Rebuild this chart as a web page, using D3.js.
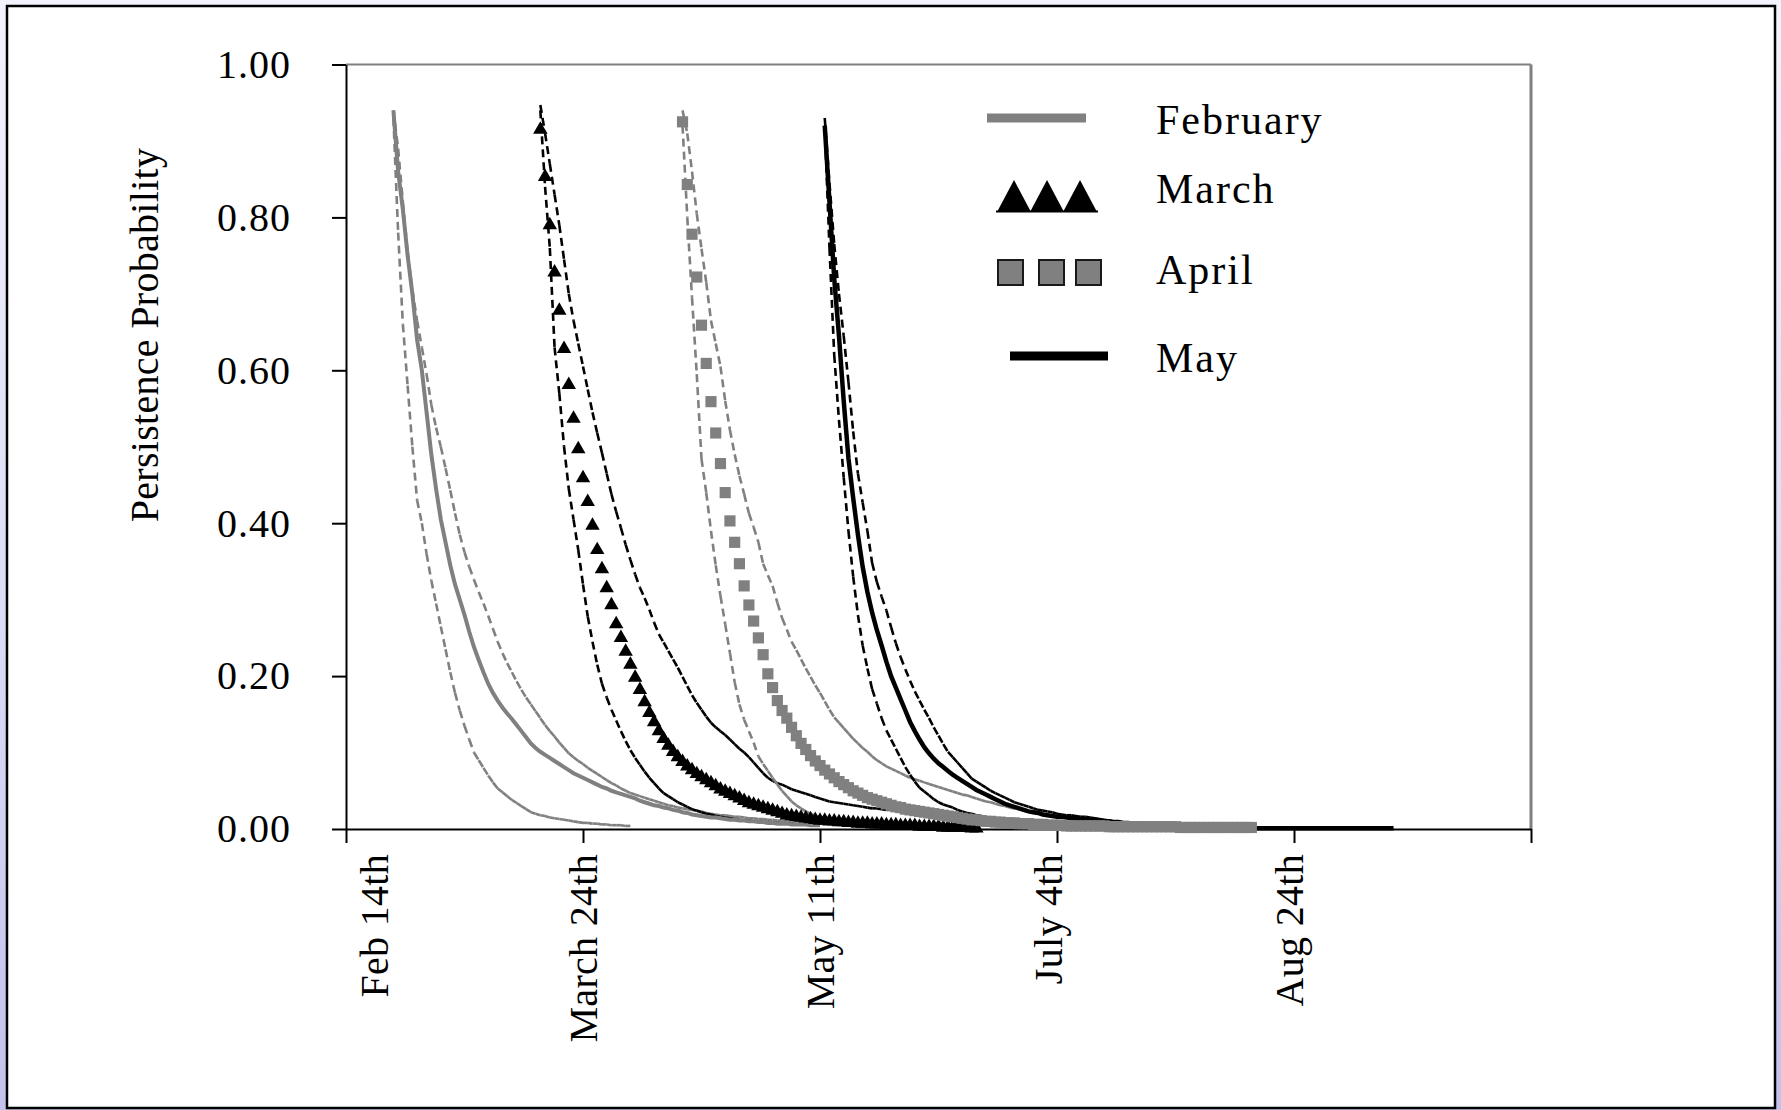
<!DOCTYPE html>
<html>
<head>
<meta charset="utf-8">
<script src="https://cdn.jsdelivr.net/npm/d3@7"></script>
<style>
html, body { margin:0; padding:0; width:1781px; height:1110px; overflow:hidden;
  background: linear-gradient(to bottom, #f3f3fe 0%, #dcdcf6 55%, #c2c2ec 100%); }
svg { display:block; }
text { font-family: "Liberation Serif", "Times New Roman", serif; fill:#000; }
</style>
</head>
<body>
<svg id="chart" width="1781" height="1110"></svg>
<script>
// ---------------- DATA ----------------
const yTicks = [0, 0.2, 0.4, 0.6, 0.8, 1.0];
const xTickDays = [0, 50, 100, 150, 200, 250];
const xTickLabels = ["Feb 14th", "March 24th", "May 11th", "July 4th", "Aug 24th"];
const xTickLabelDays = [6, 50, 100, 148, 199];
const months = ["February", "March", "April", "May"];

// first day (index on the x axis) of each daily series
const febStart = 10, marStart = 41, aprStart = 71, mayStart = 101;

// February: lower bound, mean, upper bound (daily)
const febLow = [0.93,0.78,0.66,0.58,0.50,0.43,0.40,0.36,0.325,0.295,0.265,0.235,0.205,0.178,0.155,0.135,0.117,0.100,0.090,0.080,0.070,0.061,0.053,0.048,0.043,0.038,0.034,0.030,0.026,0.022,0.020,0.018,0.017,0.015,0.014,0.013,0.012,0.011,0.010,0.009,0.008,0.008,0.007,0.007,0.006,0.006,0.005,0.005,0.005,0.004,0.004];
const febMean = [0.94,0.86,0.81,0.75,0.70,0.64,0.60,0.545,0.49,0.445,0.405,0.375,0.345,0.32,0.30,0.28,0.258,0.238,0.221,0.205,0.19,0.178,0.168,0.159,0.151,0.144,0.136,0.128,0.12,0.112,0.106,0.101,0.097,0.093,0.089,0.085,0.081,0.077,0.073,0.07,0.067,0.064,0.061,0.058,0.055,0.053,0.05,0.048,0.046,0.044,0.042,0.04,0.037,0.035,0.033,0.031,0.03,0.028,0.027,0.025,0.024,0.022,0.021,0.019,0.018,0.017,0.016,0.015,0.015,0.014,0.013,0.012,0.012,0.011,0.011,0.01,0.01,0.009,0.009,0.008,0.008,0.007,0.007,0.007,0.006,0.006,0.006,0.006,0.005,0.005,0.005];
const febHigh = [0.94,0.89,0.82,0.755,0.705,0.665,0.63,0.595,0.555,0.525,0.5,0.472,0.443,0.413,0.385,0.362,0.343,0.326,0.31,0.295,0.279,0.262,0.245,0.23,0.217,0.205,0.193,0.182,0.172,0.163,0.154,0.145,0.136,0.128,0.121,0.113,0.106,0.099,0.094,0.089,0.085,0.08,0.076,0.072,0.068,0.064,0.06,0.057,0.053,0.05,0.047,0.045,0.043,0.041,0.039,0.037,0.035,0.033,0.031,0.03,0.028,0.027,0.026,0.025,0.024,0.023,0.021,0.02,0.019,0.018,0.018,0.017,0.016,0.016,0.015,0.014,0.014,0.013,0.013,0.012,0.012,0.011,0.011,0.01,0.01,0.01,0.009,0.009,0.008,0.008,0.008,0.007,0.007,0.006,0.006,0.006];

// March
const marLow = [0.94,0.84,0.76,0.63,0.57,0.50,0.445,0.405,0.365,0.32,0.278,0.245,0.215,0.19,0.172,0.156,0.142,0.128,0.115,0.103,0.093,0.084,0.075,0.067,0.06,0.053,0.047,0.043,0.039,0.035,0.032,0.029,0.026,0.024,0.022,0.02,0.019,0.017,0.016,0.015,0.014,0.013,0.012,0.011,0.011,0.01,0.01,0.009,0.009,0.008,0.008,0.007,0.007,0.007,0.006,0.006];
const marMean = [0.915,0.853,0.79,0.728,0.678,0.628,0.581,0.537,0.497,0.459,0.428,0.397,0.365,0.34,0.315,0.293,0.268,0.25,0.232,0.215,0.198,0.182,0.166,0.152,0.14,0.128,0.118,0.109,0.101,0.094,0.088,0.082,0.077,0.072,0.068,0.064,0.06,0.056,0.052,0.049,0.046,0.043,0.04,0.037,0.034,0.032,0.03,0.028,0.026,0.024,0.022,0.02,0.018,0.017,0.016,0.015,0.014,0.013,0.012,0.011,0.011,0.01,0.01,0.009,0.009,0.008,0.008,0.007,0.007,0.007,0.006,0.006,0.006,0.005,0.005,0.005,0.004,0.004,0.004,0.004,0.003,0.003,0.003,0.003,0.003,0.002,0.002,0.002,0.002,0.002,0.002,0.001,0.001];
const marHigh = [0.947,0.91,0.87,0.83,0.79,0.745,0.70,0.665,0.635,0.605,0.575,0.545,0.518,0.492,0.465,0.438,0.415,0.394,0.372,0.352,0.333,0.316,0.302,0.287,0.27,0.255,0.244,0.233,0.222,0.211,0.199,0.187,0.175,0.165,0.156,0.147,0.139,0.133,0.128,0.123,0.117,0.111,0.105,0.1,0.094,0.087,0.08,0.073,0.067,0.063,0.06,0.058,0.055,0.052,0.05,0.048,0.046,0.044,0.042,0.04,0.038,0.036,0.035,0.034,0.033,0.032,0.031,0.03,0.029,0.028,0.027,0.027,0.026,0.025,0.025,0.024,0.023,0.023,0.022,0.022,0.021,0.02,0.019,0.018,0.017,0.016,0.015,0.014,0.013,0.012,0.011,0.01,0.009,0.008,0.008,0.007,0.006,0.006,0.005,0.005];

// April
const aprLow = [0.92,0.80,0.695,0.595,0.484,0.44,0.39,0.345,0.305,0.268,0.23,0.192,0.163,0.143,0.128,0.113,0.095,0.085,0.076,0.067,0.058,0.05,0.043,0.036,0.031,0.027,0.023,0.02,0.017,0.015,0.013,0.012,0.011,0.01,0.009,0.008,0.007,0.006,0.006,0.005];
const aprMean = [0.925,0.843,0.778,0.722,0.659,0.609,0.559,0.518,0.478,0.44,0.403,0.375,0.347,0.318,0.293,0.272,0.25,0.228,0.203,0.185,0.168,0.155,0.145,0.133,0.122,0.112,0.104,0.096,0.089,0.083,0.077,0.072,0.067,0.062,0.058,0.054,0.05,0.047,0.044,0.041,0.039,0.037,0.035,0.033,0.031,0.029,0.028,0.026,0.025,0.024,0.023,0.022,0.021,0.02,0.019,0.018,0.017,0.016,0.015,0.014,0.013,0.012,0.012,0.011,0.01,0.01,0.009,0.009,0.008,0.008,0.008,0.007,0.007,0.007,0.006,0.006,0.006,0.005,0.005,0.005,0.005,0.004,0.004,0.004,0.004,0.004,0.004,0.004,0.004,0.004,0.003,0.003,0.003,0.003,0.003,0.003,0.003,0.003,0.003,0.003,0.003,0.003,0.003,0.003,0.003,0.002,0.002,0.002,0.002,0.002,0.002,0.002,0.002,0.002,0.002,0.002,0.002,0.002,0.002,0.002,0.002];
const aprHigh = [0.94,0.91,0.86,0.805,0.759,0.715,0.665,0.635,0.605,0.56,0.522,0.49,0.462,0.438,0.413,0.395,0.375,0.347,0.332,0.318,0.296,0.276,0.261,0.245,0.234,0.222,0.21,0.199,0.188,0.178,0.167,0.156,0.146,0.139,0.132,0.125,0.118,0.112,0.106,0.101,0.095,0.09,0.086,0.082,0.079,0.076,0.073,0.07,0.067,0.065,0.063,0.061,0.059,0.057,0.055,0.053,0.051,0.049,0.047,0.045,0.044,0.042,0.04,0.038,0.036,0.035,0.033,0.031,0.03,0.028,0.027,0.026,0.024,0.023,0.022,0.02,0.019,0.018,0.017,0.016,0.015,0.014,0.013,0.012,0.011,0.01,0.009,0.008,0.008,0.007];

// May
const mayLow = [0.92,0.76,0.62,0.535,0.46,0.39,0.33,0.28,0.24,0.21,0.183,0.164,0.145,0.129,0.117,0.105,0.093,0.081,0.071,0.062,0.054,0.049,0.044,0.039,0.035,0.032,0.03,0.028,0.025,0.023,0.021,0.02,0.018,0.017,0.015,0.014,0.013,0.012,0.011,0.01,0.01,0.009,0.008,0.008,0.007,0.007,0.006,0.006];
const mayMean = [0.92,0.82,0.72,0.645,0.56,0.485,0.433,0.385,0.343,0.31,0.283,0.26,0.24,0.219,0.2,0.185,0.17,0.155,0.14,0.128,0.117,0.107,0.099,0.092,0.086,0.081,0.076,0.071,0.067,0.063,0.059,0.055,0.051,0.048,0.045,0.042,0.039,0.036,0.033,0.031,0.029,0.027,0.025,0.023,0.022,0.021,0.019,0.018,0.017,0.016,0.016,0.015,0.014,0.014,0.013,0.013,0.012,0.012,0.011,0.01,0.01,0.009,0.009,0.008,0.008,0.007,0.007,0.006,0.006,0.005,0.005,0.004,0.004,0.004,0.003,0.003,0.003,0.003,0.002,0.002,0.002,0.002,0.002,0.001,0.001,0.001,0.001,0.001,0.001,0.001,0.001,0.001,0.001,0.001,0.001,0.001,0.001,0.001,0.001,0.001,0.001,0.001,0.001,0.001,0.001,0.001,0.001,0.001,0.001,0.001,0.001,0.001,0.001,0.001,0.001,0.001,0.001,0.001,0.001,0.001,0.001];
const mayHigh = [0.93,0.845,0.765,0.7,0.645,0.585,0.52,0.465,0.427,0.39,0.348,0.323,0.304,0.286,0.264,0.243,0.225,0.209,0.194,0.18,0.168,0.156,0.145,0.133,0.122,0.111,0.101,0.094,0.087,0.08,0.073,0.066,0.062,0.058,0.054,0.05,0.047,0.044,0.041,0.038,0.035,0.033,0.031,0.029,0.027,0.025,0.024,0.023,0.022,0.02,0.019,0.018,0.018,0.017,0.016,0.016,0.015,0.014,0.013,0.012,0.011,0.01,0.009,0.008,0.008,0.007,0.006,0.006,0.005,0.005];

// ---------------- CHART ----------------
const GRAY = "#808080", BLACK = "#000000";
const svg = d3.select("#chart");

// outer frame
svg.append("rect").attr("x", 7).attr("y", 6).attr("width", 1768).attr("height", 1102)
  .attr("fill", "#ffffff").attr("stroke", "#000").attr("stroke-width", 2.5);

const x = d3.scaleLinear().domain([0, 250]).range([346, 1531]);
const y = d3.scaleLinear().domain([0, 1]).range([829, 64.5]);

// plot area border (top & right, gray)
svg.append("line").attr("x1", x(0)).attr("x2", x(250)).attr("y1", y(1)).attr("y2", y(1))
  .attr("stroke", GRAY).attr("stroke-width", 2);
svg.append("line").attr("x1", x(250)).attr("x2", x(250)).attr("y1", y(1)).attr("y2", y(0))
  .attr("stroke", GRAY).attr("stroke-width", 3);

// Y axis
const yAxisG = svg.append("g").attr("transform", `translate(${x(0)},0)`)
  .call(d3.axisLeft(y).tickValues(yTicks).tickFormat(d3.format(".2f"))
    .tickSize(14).tickSizeOuter(0).tickPadding(41));
yAxisG.attr("font-size", null).attr("font-family", null);
yAxisG.select(".domain").attr("stroke", "#000").attr("stroke-width", 2);
yAxisG.selectAll(".tick line").attr("stroke", "#000").attr("stroke-width", 2);
yAxisG.selectAll(".tick text").attr("font-size", 40).style("letter-spacing", "1px").attr("fill", "#000");

// X axis
const xAxisG = svg.append("g").attr("transform", `translate(0,${y(0)})`)
  .call(d3.axisBottom(x).tickValues(xTickDays).tickFormat(() => "")
    .tickSize(14).tickSizeOuter(0));
xAxisG.select(".domain").attr("stroke", "#000").attr("stroke-width", 2);
xAxisG.selectAll(".tick line").attr("stroke", "#000").attr("stroke-width", 2);

// X labels (rotated)
svg.append("g").selectAll("text").data(xTickLabels).join("text")
  .attr("transform", (d, i) => `translate(${x(xTickLabelDays[i])},854) rotate(-90)`)
  .attr("text-anchor", "end").attr("dy", "0.35em")
  .attr("font-size", 40).style("letter-spacing", "0.3px")
  .text(d => d);

// Y axis title
svg.append("text").attr("transform", "translate(158,335) rotate(-90)")
  .attr("text-anchor", "middle").attr("font-size", 40).style("letter-spacing", "0.3px")
  .text("Persistence Probability");

// series helpers
const toPts = (start, vals) => vals.map((v, i) => ({ day: start + i, p: v }));
const line = d3.line().x(d => x(d.day)).y(d => y(d.p));

// dashed bound curves: dash pattern restarts at every daily segment
const bounds = [
  { start: febStart, vals: febLow, color: GRAY },
  { start: febStart, vals: febHigh, color: GRAY },
  { start: marStart, vals: marLow, color: BLACK },
  { start: marStart, vals: marHigh, color: BLACK },
  { start: aprStart, vals: aprLow, color: GRAY },
  { start: aprStart, vals: aprHigh, color: GRAY },
  { start: mayStart, vals: mayLow, color: BLACK },
  { start: mayStart, vals: mayHigh, color: BLACK }
];
const boundsG = svg.append("g").attr("fill", "none");
bounds.forEach(b => {
  boundsG.append("g").selectAll("path").data(d3.pairs(toPts(b.start, b.vals))).join("path")
    .attr("d", d => line(d))
    .attr("stroke", b.color).attr("stroke-width", 2.6)
    .attr("stroke-dasharray", "8,5");
});

// February mean: gray solid line
svg.append("path").datum(toPts(febStart, febMean)).attr("d", line)
  .attr("fill", "none").attr("stroke", GRAY).attr("stroke-width", 4);

// March mean: black triangles
svg.append("g").selectAll("path").data(toPts(marStart, marMean)).join("path")
  .attr("transform", d => `translate(${x(d.day)},${y(d.p)})`)
  .attr("d", d3.symbol(d3.symbolTriangle, 90))
  .attr("fill", BLACK);

// May mean: black solid line
svg.append("path").datum(toPts(mayStart, mayMean)).attr("d", line)
  .attr("fill", "none").attr("stroke", BLACK).attr("stroke-width", 4.5);

// April mean: gray squares
svg.append("g").selectAll("path").data(toPts(aprStart, aprMean)).join("path")
  .attr("transform", d => `translate(${x(d.day)},${y(d.p)})`)
  .attr("d", d3.symbol(d3.symbolSquare, 125))
  .attr("fill", GRAY);

// ---------------- LEGEND ----------------
const lg = svg.append("g");
// February
lg.append("line").attr("x1", 987).attr("x2", 1086).attr("y1", 118).attr("y2", 118)
  .attr("stroke", GRAY).attr("stroke-width", 9);
// March triangles
[1014, 1047, 1080].forEach(cx => {
  lg.append("path").attr("d", `M${cx - 17},212 L${cx},180 L${cx + 17},212 Z`).attr("fill", BLACK);
});
lg.append("line").attr("x1", 996).attr("x2", 1098).attr("y1", 211.5).attr("y2", 211.5)
  .attr("stroke", BLACK).attr("stroke-width", 2);
// April squares
[998, 1039, 1076].forEach(sx => {
  lg.append("rect").attr("x", sx).attr("y", 260).attr("width", 25).attr("height", 25)
    .attr("fill", GRAY).attr("stroke", "#1a1a1a").attr("stroke-width", 2);
});
// May
lg.append("line").attr("x1", 1010).attr("x2", 1108).attr("y1", 356).attr("y2", 356)
  .attr("stroke", BLACK).attr("stroke-width", 9);

const legendBaselines = [134, 203, 284, 372];
lg.selectAll("text.lab").data(months).join("text").attr("class", "lab")
  .attr("x", 1156).attr("y", (d, i) => legendBaselines[i])
  .attr("font-size", 42).style("letter-spacing", "2px")
  .text(d => d);
</script>
</body>
</html>
